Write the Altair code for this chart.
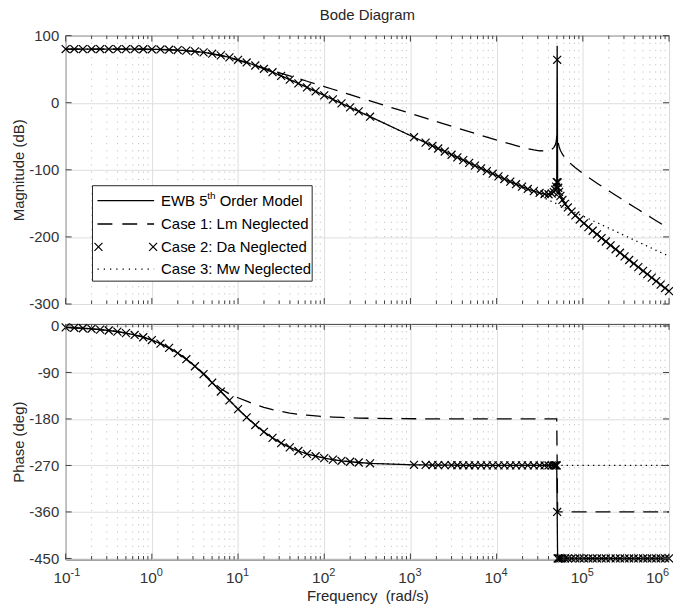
import altair as alt
import pandas as pd

# ---------------- data ----------------
freq = [0.1, 0.1259, 0.1585, 0.1995, 0.2512, 0.3162, 0.3981, 0.5012, 0.631, 0.7943,
        1.0, 1.259, 1.585, 1.995, 2.512, 3.162, 3.981, 5.012, 6.31, 7.943,
        10.0, 12.59, 15.85, 19.95, 25.12, 31.62, 39.81, 50.12, 63.1, 79.43,
        100.0, 125.9, 158.5, 199.5, 251.2, 340.0, 1100.0,
        1500, 1800, 2100, 2500, 3000, 3500, 4100, 4800, 5600, 6600,
        7700, 9000, 10500, 12300, 14400, 16800, 19700, 23000, 27000, 31500,
        36000, 40000, 43500, 46000, 47800, 49000, 49800,
        50400,
        51000, 51800, 53000, 55000, 58000, 62000, 67000, 74000, 82000, 92000,
        103000, 116000, 130000, 146000, 165000, 185000, 210000, 240000, 270000, 305000,
        345000, 390000, 440000, 500000, 560000, 630000, 710000, 800000, 900000, 1000000]

ewb_mag = [80.0, 80.0, 80.0, 80.0, 80.0, 80.0, 79.9, 79.9, 79.8, 79.7,
           79.6, 79.4, 79.0, 78.5, 77.7, 76.6, 75.1, 73.1, 70.6, 67.6,
           64.0, 60.0, 55.5, 50.6, 45.5, 40.0, 34.4, 28.7, 22.8, 16.9,
           11.0, 5.0, -0.9, -6.9, -12.9, -20.8, -51.4,
           -59.4, -64.2, -68.2, -72.7, -77.5, -81.5, -85.6, -89.7, -93.7, -97.9,
           -101.9, -105.8, -109.8, -113.7, -117.6, -121.4, -125.1, -128.5, -131.8, -134.5,
           -136.1, -136.4, -135.3, -133.1, -129.7, -125.1, -118.2,
           85.0,
           -118.9, -126.7, -132.8, -138.9, -144.9, -150.6, -156.1, -162.3, -168.0, -174.1,
           -179.7, -185.4, -190.8, -196.1, -201.7, -206.8, -212.5, -218.4, -223.6, -229.0,
           -234.4, -239.7, -245.0, -250.6, -255.5, -260.7, -265.9, -271.1, -276.2, -280.8]

case1_mag = [80.0, 80.0, 80.0, 80.0, 80.0, 80.0, 79.9, 79.9, 79.8, 79.7,
             79.5, 79.2, 78.8, 78.3, 77.4, 76.2, 74.6, 72.6, 70.1, 67.0,
             63.3, 59.6, 55.7, 51.7, 47.9, 43.9, 40.0, 36.0, 32.0, 28.1,
             24.1, 20.1, 16.1, 12.1, 8.1, 2.8, -17.6,
             -23.0, -26.1, -28.8, -31.8, -35.0, -37.6, -40.4, -43.1, -45.7, -48.6,
             -51.2, -53.8, -56.4, -59.0, -61.5, -63.9, -66.3, -68.4, -70.2, -71.6,
             -72.0, -71.4, -69.6, -66.9, -63.2, -58.3, -51.3,
             -48.0,
             -51.8, -59.5, -65.4, -71.2, -76.7, -81.8, -86.7, -92.0, -96.8, -101.8,
             -106.5, -111.2, -115.5, -119.9, -124.4, -128.5, -133.1, -137.9, -142.0, -146.3,
             -150.7, -155.0, -159.2, -163.7, -167.6, -171.7, -175.9, -180.0, -184.1, -187.8]

case2_mag = [80.0, 80.0, 80.0, 80.0, 80.0, 80.0, 79.9, 79.9, 79.8, 79.7,
             79.6, 79.4, 79.0, 78.5, 77.7, 76.6, 75.1, 73.1, 70.6, 67.6,
             64.0, 60.0, 55.5, 50.6, 45.5, 40.0, 34.4, 28.7, 22.8, 16.9,
             11.0, 5.0, -0.9, -6.9, -12.9, -20.8, -51.4,
             -59.4, -64.2, -68.2, -72.7, -77.5, -81.5, -85.6, -89.7, -93.7, -97.9,
             -101.9, -105.8, -109.8, -113.7, -117.6, -121.4, -125.1, -128.5, -131.8, -134.5,
             -136.1, -136.4, -135.3, -133.1, -129.7, -125.1, -118.2,
             64.0,
             -118.9, -126.7, -132.8, -138.9, -144.9, -150.6, -156.1, -162.3, -168.0, -174.1,
             -179.7, -185.4, -190.8, -196.1, -201.7, -206.8, -212.5, -218.4, -223.6, -229.0,
             -234.4, -239.7, -245.0, -250.6, -255.5, -260.7, -265.9, -271.1, -276.2, -280.8]

case3_mag = [80.0, 80.0, 80.0, 80.0, 80.0, 80.0, 79.9, 79.9, 79.8, 79.7,
             79.6, 79.4, 79.0, 78.5, 77.7, 76.6, 75.1, 73.1, 70.6, 67.6,
             64.0, 60.0, 55.5, 50.6, 45.5, 40.0, 34.4, 28.7, 22.8, 16.9,
             11.0, 5.0, -0.9, -6.9, -12.9, -20.8, -51.4,
             -59.4, -64.2, -68.2, -72.8, -77.5, -81.5, -85.6, -89.7, -93.8, -98.0,
             -102.1, -106.1, -110.1, -114.3, -118.4, -122.4, -126.5, -130.6, -134.8, -138.8,
             -142.3, -145.0, -147.2, -148.6, -149.6, -150.3, -150.7,
             -151.0,
             -151.3, -151.7, -152.3, -153.3, -154.7, -156.4, -158.4, -161.0, -163.7, -166.7,
             -169.6, -172.7, -175.7, -178.7, -181.9, -184.9, -188.2, -191.7, -194.8, -197.9,
             -201.1, -204.3, -207.5, -210.8, -213.8, -216.8, -220.0, -223.1, -226.1, -228.9]

ewb_phase = [-2.8, -3.5, -4.4, -5.5, -7.0, -8.8, -11.0, -13.8, -17.4, -21.8,
             -27.3, -34.1, -42.4, -52.5, -64.3, -78.0, -93.3, -109.8, -126.9, -144.1,
             -160.9, -176.9, -191.7, -205.0, -216.7, -226.7, -235.1, -242.0, -247.6, -252.1,
             -255.8, -258.7, -261.0, -262.8, -264.3, -265.8, -268.7,
             -269.0, -269.2, -269.3, -269.4, -269.5, -269.6, -269.7, -269.7, -269.7, -269.8,
             -269.8, -269.8, -269.9, -269.9, -269.9, -269.9, -269.9, -269.9, -270.0, -270.0,
             -270.0, -270.0, -270.0, -270.0, -270.0, -270.0, -270.0,
             -360.0,
             -450.0, -450.0, -450.0, -450.0, -450.0, -450.0, -450.0, -450.0, -450.0, -450.0,
             -450.0, -450.0, -450.0, -450.0, -450.0, -450.0, -450.0, -450.0, -450.0, -450.0,
             -450.0, -450.0, -450.0, -450.0, -450.0, -450.0, -450.0, -450.0, -450.0, -450.0]

case1_phase = [-2.8, -3.5, -4.4, -5.5, -7.0, -8.8, -11.0, -13.8, -17.4, -21.8,
               -27.3, -34.1, -42.4, -52.5, -64.2, -77.5, -92.0, -107.5, -121.5, -131.5,
               -139.0, -145.5, -152.0, -157.5, -162.0, -165.6, -168.5, -170.9, -172.7, -174.2,
               -175.4, -176.4, -177.1, -177.7, -178.2, -178.7, -179.6,
               -179.7, -179.7, -179.8, -179.8, -179.8, -179.9, -179.9, -179.9, -179.9, -179.9,
               -179.9, -180.0, -180.0, -180.0, -180.0, -180.0, -180.0, -180.0, -180.0, -180.0,
               -180.0, -180.0, -180.0, -180.0, -180.0, -180.0, -180.0,
               -270.0,
               -360.0, -360.0, -360.0, -360.0, -360.0, -360.0, -360.0, -360.0, -360.0, -360.0,
               -360.0, -360.0, -360.0, -360.0, -360.0, -360.0, -360.0, -360.0, -360.0, -360.0,
               -360.0, -360.0, -360.0, -360.0, -360.0, -360.0, -360.0, -360.0, -360.0, -360.0]

case2_phase = [-2.8, -3.5, -4.4, -5.5, -7.0, -8.8, -11.0, -13.8, -17.4, -21.8,
               -27.3, -34.1, -42.4, -52.5, -64.3, -78.0, -93.3, -109.8, -126.9, -144.1,
               -160.9, -176.9, -191.7, -205.0, -216.7, -226.7, -235.1, -242.0, -247.6, -252.1,
               -255.8, -258.7, -261.0, -262.8, -264.3, -265.8, -268.7,
               -269.0, -269.2, -269.3, -269.4, -269.5, -269.6, -269.7, -269.7, -269.7, -269.8,
               -269.8, -269.8, -269.9, -269.9, -269.9, -269.9, -269.9, -269.9, -270.0, -270.0,
               -270.0, -270.0, -270.0, -270.0, -270.0, -270.0, -270.0,
               -360.0,
               -450.0, -450.0, -450.0, -450.0, -450.0, -450.0, -450.0, -450.0, -450.0, -450.0,
               -450.0, -450.0, -450.0, -450.0, -450.0, -450.0, -450.0, -450.0, -450.0, -450.0,
               -450.0, -450.0, -450.0, -450.0, -450.0, -450.0, -450.0, -450.0, -450.0, -450.0]

case3_phase = [-2.8, -3.5, -4.4, -5.5, -7.0, -8.8, -11.0, -13.8, -17.4, -21.8,
               -27.3, -34.1, -42.4, -52.5, -64.3, -78.0, -93.3, -109.8, -126.9, -144.1,
               -160.9, -176.9, -191.7, -205.0, -216.7, -226.7, -235.1, -242.0, -247.6, -252.1,
               -255.8, -258.7, -261.0, -262.8, -264.3, -265.8, -268.7,
               -269.0, -269.2, -269.3, -269.4, -269.5, -269.6, -269.7, -269.7, -269.7, -269.8,
               -269.8, -269.8, -269.9, -269.9, -269.9, -269.9, -269.9, -269.9, -270.0, -270.0,
               -270.0, -270.0, -270.0, -270.0, -270.0, -270.0, -270.0,
               -270.0,
               -270.0, -270.0, -270.0, -270.0, -270.0, -270.0, -270.0, -270.0, -270.0, -270.0,
               -270.0, -270.0, -270.0, -270.0, -270.0, -270.0, -270.0, -270.0, -270.0, -270.0,
               -270.0, -270.0, -270.0, -270.0, -270.0, -270.0, -270.0, -270.0, -270.0, -270.0]

decades = [0.1, 1, 10, 100, 1000, 10000, 100000, 1000000]
exponents = ["-1", "0", "1", "2", "3", "4", "5", "6"]
mag_ticks = [100, 0, -100, -200, -300]
phase_ticks = [0, -90, -180, -270, -360, -450]
legend_labels = ["Case 1: Lm Neglected", "Case 2: Da Neglected", "Case 3: Mw Neglected"]

# ---------------- layout / style ----------------
W, H1, H2 = 607, 270, 237
FONT = "Liberation Sans"
TXT = "#262626"
LBL = "#333333"
GRID = "#dedede"
MINOR = "#c4c4c4"
BOX = "#404040"
XPATH = "M-1,-1L1,1M-1,1L1,-1"

minor = [m * d for d in decades[:-1] for m in range(2, 10)]

df = pd.DataFrame({
    "freq": freq,
    "ewb_mag": ewb_mag, "case1_mag": case1_mag, "case2_mag": case2_mag, "case3_mag": case3_mag,
    "ewb_ph": ewb_phase, "case1_ph": case1_phase, "case2_ph": case2_phase, "case3_ph": case3_phase,
})
ddf = pd.DataFrame({"val": decades, "exp": exponents})
ddf_in = ddf.iloc[:-1]
ddf_last = ddf.iloc[-1:]
mdf = pd.DataFrame({"val": minor})
one = pd.DataFrame({"k": [0]})

xscale = alt.Scale(type="log", domain=[0.1, 1e6], nice=False)
mag_scale = alt.Scale(domain=[-300, 100], nice=False, zero=False)
ph_scale = alt.Scale(domain=[-452, 4], nice=False, zero=False)

ax_top = alt.Axis(values=decades, labels=False, ticks=False, domain=False,
                  grid=True, gridColor=GRID, gridWidth=1)
ax_bot = alt.Axis(values=decades, labels=False, ticks=False, domain=False,
                  grid=True, gridColor=GRID, gridWidth=1,
                  titleFontSize=15, titleFont=FONT, titleFontWeight="normal",
                  titleColor=TXT, titlePadding=29)


def yaxis(vals):
    return alt.Axis(values=vals, labelExpr="'' + datum.value", ticks=False, domain=False,
                    grid=True, gridColor=GRID, gridWidth=1,
                    labelFontSize=15, labelFont=FONT, labelColor=LBL, labelPadding=7,
                    labelFlush=False,
                    titleFontSize=15, titleFont=FONT, titleFontWeight="normal",
                    titleColor=TXT, titlePadding=2)


def xt(f):
    return alt.X(f"{f}:Q", scale=xscale, axis=ax_top, title=None)


def xb(f):
    return alt.X(f"{f}:Q", scale=xscale, axis=ax_bot, title="Frequency \u00a0(rad/s)")


def ym(f):
    return alt.Y(f"{f}:Q", scale=mag_scale, axis=yaxis(mag_ticks), title="Magnitude (dB)")


def yp(f):
    return alt.Y(f"{f}:Q", scale=ph_scale, axis=yaxis(phase_ticks), title="Phase (deg)")


def frame_layers(xenc, yenc, H, yticks):
    tdf = pd.DataFrame({"v": yticks})
    return [
        alt.Chart(ddf).mark_rule(color=BOX, strokeWidth=1).encode(
            x=xenc("val"), y=alt.value(H), y2=alt.value(H - 6)),
        alt.Chart(ddf).mark_rule(color=BOX, strokeWidth=1).encode(
            x=xenc("val"), y=alt.value(0), y2=alt.value(6)),
        alt.Chart(mdf).mark_rule(color=BOX, strokeWidth=1).encode(
            x=xenc("val"), y=alt.value(H), y2=alt.value(H - 3.5)),
        alt.Chart(mdf).mark_rule(color=BOX, strokeWidth=1).encode(
            x=xenc("val"), y=alt.value(0), y2=alt.value(3.5)),
        alt.Chart(tdf).mark_rule(color=BOX, strokeWidth=1).encode(
            y=yenc("v"), x=alt.value(0), x2=alt.value(6)),
        alt.Chart(tdf).mark_rule(color=BOX, strokeWidth=1).encode(
            y=yenc("v"), x=alt.value(W), x2=alt.value(W - 6)),
    ]


def xmark():
    return dict(shape=XPATH, filled=False, size=64, strokeWidth=1.2, color="black", opacity=1)


def curves(xenc, yenc, suffix):
    return [
        alt.Chart(df).mark_line(color="black", strokeWidth=1.3).encode(
            x=xenc("freq"), y=yenc("ewb_" + suffix)),
        alt.Chart(df).mark_line(color="black", strokeWidth=1.3, strokeDash=[15, 9]).encode(
            x=xenc("freq"), y=yenc("case1_" + suffix)),
        alt.Chart(df).mark_point(**xmark()).encode(
            x=xenc("freq"), y=yenc("case2_" + suffix)),
        alt.Chart(df).mark_line(color="black", strokeWidth=1.3, strokeDash=[1.3, 4]).encode(
            x=xenc("freq"), y=yenc("case3_" + suffix)),
    ]


# ---------------- legend (inside magnitude panel) ----------------
LX0, LX1, LY0, LY1 = 27, 248, 151, 247
rows = [166, 189.5, 212.5, 235]
TX = 96
legend = [
    alt.Chart(one).mark_rect(fill="white", stroke=TXT, strokeWidth=1).encode(
        x=alt.value(LX0), x2=alt.value(LX1), y=alt.value(LY0), y2=alt.value(LY1)),
    alt.Chart(one).mark_rule(color="black", strokeWidth=1.3).encode(
        x=alt.value(32), x2=alt.value(89), y=alt.value(rows[0])),
    alt.Chart(one).mark_rule(color="black", strokeWidth=1.3, strokeDash=[15, 10]).encode(
        x=alt.value(32), x2=alt.value(89), y=alt.value(rows[1])),
    alt.Chart(one).mark_point(**xmark()).encode(x=alt.value(33), y=alt.value(rows[2])),
    alt.Chart(one).mark_point(**xmark()).encode(x=alt.value(88), y=alt.value(rows[2])),
    alt.Chart(one).mark_rule(color="black", strokeWidth=1.3, strokeDash=[1.3, 5]).encode(
        x=alt.value(32), x2=alt.value(89), y=alt.value(rows[3])),
    alt.Chart(one).mark_text(text="EWB 5", align="left", baseline="middle", fontSize=15,
                             font=FONT, color="black").encode(
        x=alt.value(TX), y=alt.value(rows[0])),
    alt.Chart(one).mark_text(text="th", align="left", baseline="middle", fontSize=10,
                             font=FONT, color="black").encode(
        x=alt.value(TX + 46.5), y=alt.value(rows[0] - 5)),
    alt.Chart(one).mark_text(text="Order Model", align="left", baseline="middle", fontSize=15,
                             font=FONT, color="black").encode(
        x=alt.value(TX + 59), y=alt.value(rows[0])),
]
for i, lab in enumerate(legend_labels):
    legend.append(
        alt.Chart(one).mark_text(text=lab, align="left", baseline="middle", fontSize=15,
                                 font=FONT, color="black").encode(
            x=alt.value(TX), y=alt.value(rows[i + 1])))

# ---------------- panels ----------------
minor_top = alt.Chart(mdf).mark_rule(color=MINOR, strokeDash=[1.2, 6], strokeWidth=1).encode(
    x=xt("val"), y=alt.value(0), y2=alt.value(H1))
minor_bot = alt.Chart(mdf).mark_rule(color=MINOR, strokeDash=[1.2, 6], strokeWidth=1).encode(
    x=xb("val"), y=alt.value(0), y2=alt.value(H2))

top = alt.layer(
    minor_top, *curves(xt, ym, "mag"), *legend, *frame_layers(xt, ym, H1, mag_ticks)
).properties(
    width=W, height=H1,
    title=alt.TitleParams("Bode Diagram", fontSize=15, fontWeight="normal", font=FONT,
                          color=TXT, offset=6, anchor="middle", frame="group"),
)


def xlabels(data, shift):
    return [
        alt.Chart(data).mark_text(text="10", align="right", baseline="alphabetic",
                                  fontSize=15.5, font=FONT, color=LBL, dx=shift).encode(
            x=xb("val"), y=alt.value(H2 + 24)),
        alt.Chart(data).mark_text(align="left", baseline="alphabetic", fontSize=11,
                                  font=FONT, color=LBL, dx=shift).encode(
            x=xb("val"), y=alt.value(H2 + 17), text="exp:N"),
    ]


bottom = alt.layer(
    minor_bot, *curves(xb, yp, "ph"), *frame_layers(xb, yp, H2, phase_ticks),
    *xlabels(ddf_in, 5), *xlabels(ddf_last, -6)
).properties(width=W, height=H2)

chart = alt.vconcat(top, bottom, spacing=5).properties(
    padding={"left": 3, "top": -3, "right": -3, "bottom": 0}
).configure(font=FONT).configure_view(stroke=BOX, strokeWidth=1)

chart.save("out.html", embed_options={"renderer": "svg", "actions": False})
